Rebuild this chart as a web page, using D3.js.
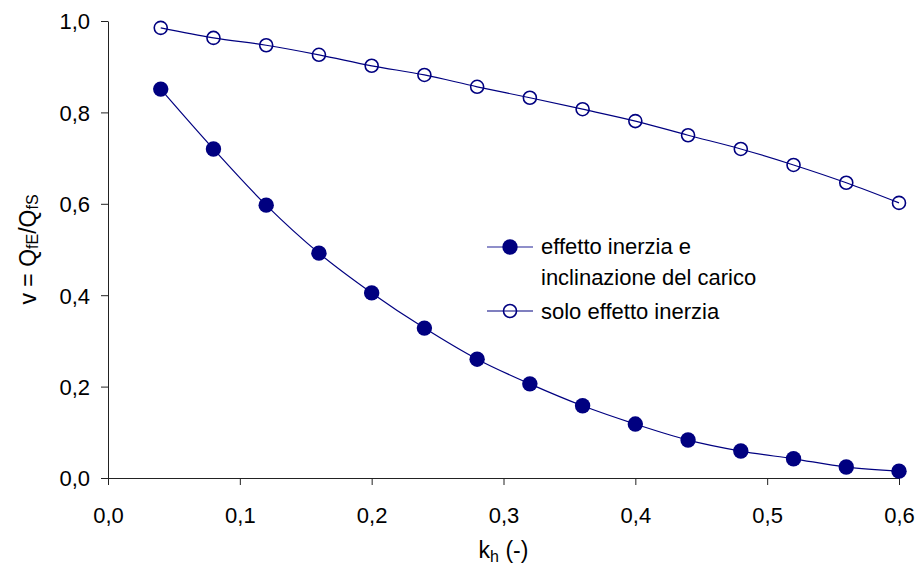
<!DOCTYPE html>
<html>
<head>
<meta charset="utf-8">
<script src="https://cdn.jsdelivr.net/npm/d3@7"></script>
<style>
  body { margin: 0; background: #fff; }
  svg text { font-family: "Liberation Sans", Arial, sans-serif; fill: #000; }
</style>
</head>
<body>
<svg id="chart"></svg>
<script>
// k_h values
const kh = [0.04, 0.08, 0.12, 0.16, 0.20, 0.24, 0.28, 0.32, 0.36, 0.40, 0.44, 0.48, 0.52, 0.56, 0.60];
// effetto inerzia e inclinazione del carico
const inerziaInclinazione = [0.851, 0.720, 0.597, 0.492, 0.405, 0.328, 0.260, 0.206, 0.158, 0.118, 0.083, 0.059, 0.042, 0.024, 0.015];
// solo effetto inerzia
const soloInerzia = [0.985, 0.963, 0.947, 0.926, 0.902, 0.882, 0.856, 0.832, 0.807, 0.781, 0.750, 0.720, 0.685, 0.646, 0.602];
const xTicks = [0, 0.1, 0.2, 0.3, 0.4, 0.5, 0.6];
const yTicks = [0, 0.2, 0.4, 0.6, 0.8, 1.0];

const width = 919, height = 568;
const margin = { top: 21, right: 20, bottom: 90, left: 108 };
const color = '#000080';

const svg = d3.select('#chart').attr('width', width).attr('height', height);

const x = d3.scaleLinear().domain([0, 0.6]).range([margin.left, 899]);
const y = d3.scaleLinear().domain([0, 1]).range([478, margin.top]);

const fmt = d => d3.format('.1f')(d).replace('.', ',');

// axes
const xAxis = svg.append('g')
    .attr('transform', `translate(0,${y(0)})`)
    .call(d3.axisBottom(x).tickValues(xTicks).tickFormat(fmt).tickSize(7).tickSizeOuter(0));
const yAxis = svg.append('g')
    .attr('transform', `translate(${x(0)},0)`)
    .call(d3.axisLeft(y).tickValues(yTicks).tickFormat(fmt).tickSize(7).tickSizeOuter(0));

[xAxis, yAxis].forEach(a => {
  a.selectAll('path, line').attr('stroke', '#222').attr('stroke-width', 1);
  a.selectAll('text').style('font-size', '22px');
});
xAxis.selectAll('text').attr('y', 45).attr('dy', 0);
yAxis.selectAll('text').attr('x', -18).attr('dy', '0.36em');

// axis titles
svg.append('text')
    .attr('x', (x(0) + x(0.6)) / 2)
    .attr('y', 558)
    .attr('text-anchor', 'middle')
    .style('font-size', '23px')
    .html('k<tspan font-size="16px" dy="4">h</tspan><tspan dy="-4"> (-)</tspan>');

svg.append('text')
    .attr('transform', `translate(36,${(y(0) + y(1)) / 2}) rotate(-90)`)
    .attr('text-anchor', 'middle')
    .style('font-size', '23px')
    .html('v = Q<tspan font-size="16px" dy="2">fE</tspan><tspan dy="-2">/Q</tspan><tspan font-size="16px" dy="2">fS</tspan>');

// series
const line = d3.line()
    .x((d, i) => x(kh[i]))
    .y(d => y(d))
    .curve(d3.curveCatmullRom.alpha(0.5));

svg.append('path').datum(soloInerzia)
    .attr('d', line).attr('fill', 'none').attr('stroke', color).attr('stroke-width', 1.2);
svg.append('path').datum(inerziaInclinazione)
    .attr('d', line).attr('fill', 'none').attr('stroke', color).attr('stroke-width', 1.2);

svg.selectAll('.open').data(soloInerzia).join('circle')
    .attr('class', 'open')
    .attr('cx', (d, i) => x(kh[i])).attr('cy', d => y(d))
    .attr('r', 6.5).attr('fill', 'none')
    .attr('stroke', color).attr('stroke-width', 1.6);

svg.selectAll('.filled').data(inerziaInclinazione).join('circle')
    .attr('class', 'filled')
    .attr('cx', (d, i) => x(kh[i])).attr('cy', d => y(d))
    .attr('r', 7.7).attr('fill', color);

// legend
const lg = svg.append('g');
lg.append('line').attr('x1', 487).attr('x2', 533).attr('y1', 247).attr('y2', 247)
    .attr('stroke', '#6a6ab8').attr('stroke-width', 1.4);
lg.append('circle').attr('cx', 510).attr('cy', 247).attr('r', 7.7).attr('fill', color);
lg.append('text').attr('x', 541).attr('y', 254).style('font-size', '22px').text('effetto inerzia e');
lg.append('text').attr('x', 541).attr('y', 285).style('font-size', '22px').text('inclinazione del carico');

lg.append('line').attr('x1', 487).attr('x2', 533).attr('y1', 311).attr('y2', 311)
    .attr('stroke', color).attr('stroke-width', 1.2);
lg.append('circle').attr('cx', 510).attr('cy', 311).attr('r', 6.5).attr('fill', 'none')
    .attr('stroke', color).attr('stroke-width', 1.6);
lg.append('text').attr('x', 541).attr('y', 319).style('font-size', '22px').text('solo effetto inerzia');
</script>
</body>
</html>
